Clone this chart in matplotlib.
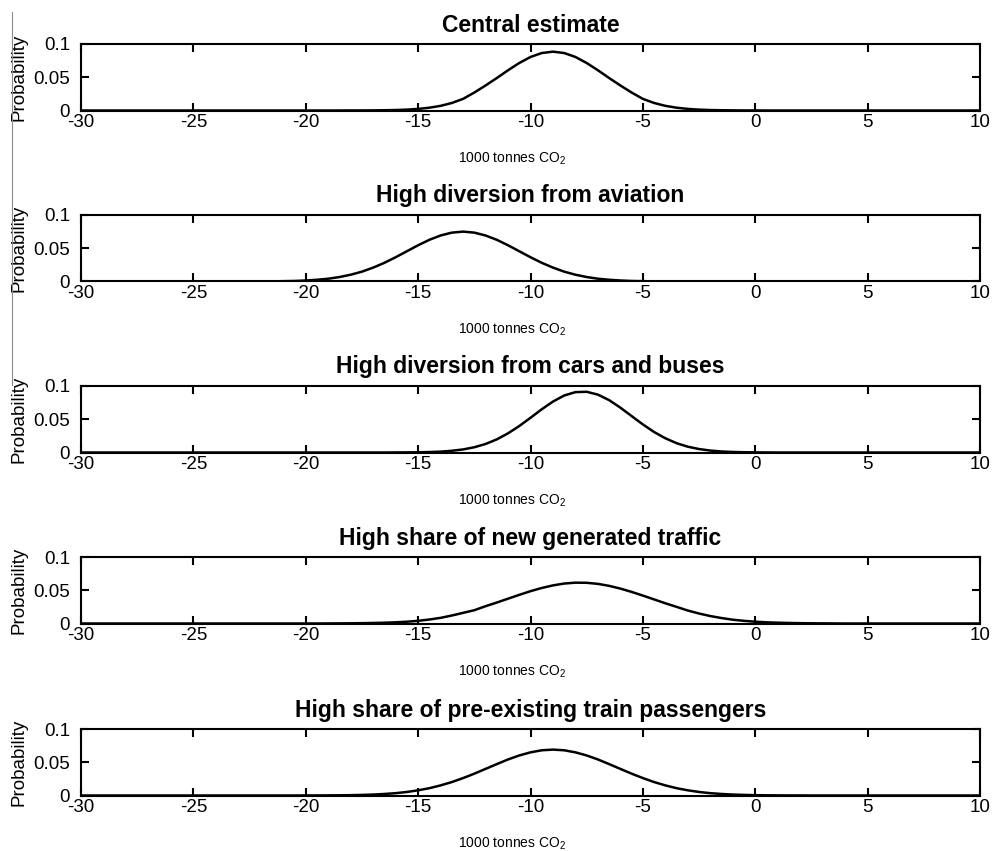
import matplotlib
matplotlib.use("Agg")
import matplotlib.pyplot as plt
from matplotlib.lines import Line2D
import matplotlib.ticker as mtick

# x grid in 1000 tonnes CO2, half-unit steps from -30 to 10
x_vals = [i * 0.5 for i in range(-60, 21)]

titles = [
    "Central estimate",
    "High diversion from aviation",
    "High diversion from cars and buses",
    "High share of new generated traffic",
    "High share of pre-existing train passengers",
]

# probabilities, one value per x in x_vals
central = [0] * 24 + [
    0.0001, 0.0001, 0.0002, 0.0004, 0.0007, 0.0013, 0.0024, 0.0042, 0.0070,
    0.0113, 0.0175, 0.0270, 0.0376, 0.0488, 0.0605, 0.0714, 0.0805, 0.0864,
    0.0885,
    0.0864, 0.0805, 0.0714, 0.0605, 0.0488, 0.0376, 0.0270, 0.0175, 0.0113,
    0.0070, 0.0042, 0.0024, 0.0013, 0.0007, 0.0004, 0.0002, 0.0001, 0.0001,
] + [0] * 20

aviation = [0] * 15 + [
    0.0001, 0.0001, 0.0002, 0.0005, 0.0008, 0.0015, 0.0026, 0.0042, 0.0067,
    0.0102, 0.0148, 0.0209, 0.0281, 0.0365, 0.0455, 0.0545, 0.0627, 0.0692,
    0.0735,
    0.0750,
    0.0735, 0.0692, 0.0627, 0.0545, 0.0455, 0.0365, 0.0281, 0.0209, 0.0148,
    0.0102, 0.0067, 0.0042, 0.0026, 0.0015, 0.0008, 0.0005, 0.0002, 0.0001,
    0.0001,
] + [0] * 27

cars_buses = [0] * 28 + [
    0.0001, 0.0002, 0.0003, 0.0007, 0.0013, 0.0026, 0.0046, 0.0079, 0.0128,
    0.0197, 0.0288, 0.0398, 0.0522, 0.0650, 0.0766, 0.0857, 0.0908, 0.0913,
    0.0870, 0.0787, 0.0674, 0.0548, 0.0422, 0.0308, 0.0214, 0.0140, 0.0087,
    0.0052, 0.0029, 0.0015, 0.0008, 0.0004, 0.0002, 0.0001,
] + [0] * 19

generated = [0] * 22 + [
    0.0001, 0.0002, 0.0003, 0.0005, 0.0008, 0.0012, 0.0018, 0.0027, 0.0040,
    0.0060, 0.0085, 0.0120, 0.0160, 0.0200, 0.0260, 0.0315, 0.0373, 0.0431,
    0.0486, 0.0534, 0.0573, 0.0601,
    0.0614, 0.0612, 0.0596, 0.0566, 0.0525, 0.0475, 0.0420, 0.0362, 0.0304,
    0.0250, 0.0195, 0.0150, 0.0112, 0.0082, 0.0057, 0.0040, 0.0027, 0.0018,
    0.0012, 0.0008, 0.0005, 0.0003, 0.0002, 0.0001,
] + [0] * 13

existing = [0] * 20 + [
    0.0001, 0.0001, 0.0002, 0.0003, 0.0005, 0.0009, 0.0014, 0.0023, 0.0035,
    0.0053, 0.0078, 0.0110, 0.0152, 0.0202, 0.0262, 0.0328, 0.0400, 0.0472,
    0.0542, 0.0602, 0.0649, 0.0680,
    0.0690,
    0.0680, 0.0649, 0.0602, 0.0542, 0.0472, 0.0400, 0.0328, 0.0262, 0.0202,
    0.0152, 0.0110, 0.0078, 0.0053, 0.0035, 0.0023, 0.0014, 0.0009, 0.0005,
    0.0003, 0.0002, 0.0001, 0.0001,
] + [0] * 16

series = [central, aviation, cars_buses, generated, existing]

x_ticks = [-30, -25, -20, -15, -10, -5, 0, 5, 10]
y_ticks = [0, 0.05, 0.1]
y_tick_labels = ["0", "0.05", "0.1"]

plt.rcParams.update(
    {
        "font.family": ["Liberation Sans", "DejaVu Sans"],
        "mathtext.fontset": "custom",
        "mathtext.rm": "Liberation Sans",
        "mathtext.it": "Liberation Sans:italic",
        "mathtext.bf": "Liberation Sans:bold",
        "mathtext.default": "regular",
        "axes.unicode_minus": False,
        "axes.linewidth": 1.5,
    }
)

W, H = 993, 851
fig = plt.figure(figsize=(W / 100, H / 100), dpi=100)

left_px, right_px = 81, 980
panel_px = [(44, 110.5), (215, 281.5), (386, 452.5), (557, 623.5), (729, 795.5)]

for (top, bot), title, yv in zip(panel_px, titles, series):
    ax = fig.add_axes([left_px / W, 1 - bot / H, (right_px - left_px) / W, (bot - top) / H])
    ax.plot(x_vals, yv, color="black", linewidth=1.8)
    ax.set_xlim(-30, 10)
    ax.set_ylim(0, 0.1)
    ax.set_xticks(x_ticks)
    ax.set_yticks(y_ticks)
    ax.yaxis.set_major_formatter(mtick.FixedFormatter(y_tick_labels))
    ax.tick_params(direction="in", length=5.5, width=1.5, top=True, right=True,
                   labelsize=13.5, colors="black")
    ax.tick_params(axis="x", pad=2.5)
    ax.tick_params(axis="y", pad=8)
    ax.set_title(title, fontsize=16.5, fontweight="bold", pad=9)
    ax.set_xlabel("1000 tonnes CO$_2$", fontsize=10)
    ax.xaxis.set_label_coords(0.479, -0.60)
    ax.set_ylabel("Probability", fontsize=13.5)
    ax.yaxis.set_label_coords(-0.060, 0.5)

# thin grey rule at the left edge of the scanned page
fig.add_artist(Line2D([12 / W, 12 / W], [1 - 12 / H, 1 - 385 / H], color="#8c8c8c", linewidth=0.8))

fig.savefig("out.png", dpi=100)
